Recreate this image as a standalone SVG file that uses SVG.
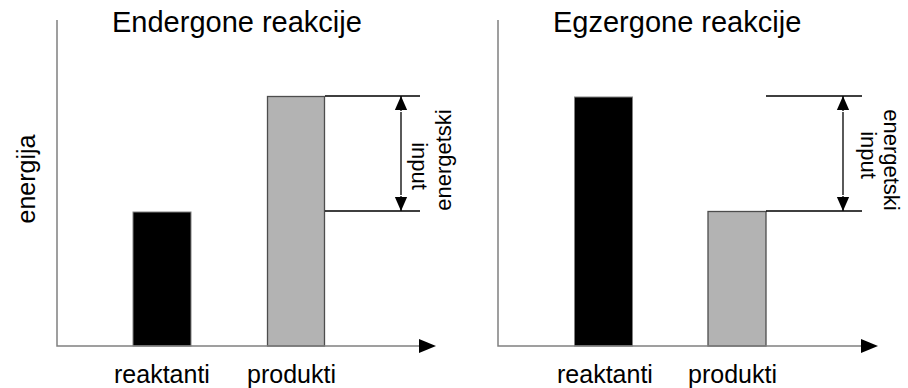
<svg xmlns="http://www.w3.org/2000/svg" width="908" height="388" viewBox="0 0 908 388">
<defs>
<marker id="axarrow" markerUnits="userSpaceOnUse" markerWidth="18" markerHeight="14" refX="0" refY="7" orient="auto" viewBox="0 0 18 14">
<path d="M0,0 L17,7 L0,14 Z" fill="#000"/>
</marker>
<marker id="dimarrow" markerUnits="userSpaceOnUse" markerWidth="14" markerHeight="16" refX="16" refY="7" orient="auto" viewBox="0 0 16 14">
<path d="M0,0 L16,7 L0,14 Z" fill="#000"/>
</marker>
</defs>
<style>
.t{font-family:"Liberation Sans",Arial,sans-serif;fill:#000}
.title{font-size:29px}
.lab{font-size:25px}
.side{font-size:22px}
.axis{stroke:#808080;stroke-width:1.5;fill:none}
.ref{stroke:#000;stroke-width:1.3;fill:none}
.dim{stroke:#000;stroke-width:1.3;fill:none}
.blk{fill:#000;stroke:#808080;stroke-width:1}
.gry{fill:#b3b3b3;stroke:#4d4d4d;stroke-width:1.3}
</style>
<rect width="908" height="388" fill="#fff"/>
<g id="left-panel">
<text class="t title" x="112" y="32">Endergone reakcije</text>
<text class="t lab" transform="translate(35,179) rotate(-90)" text-anchor="middle">energija</text>
<text class="t lab" x="114" y="383">reaktanti</text>
<text class="t lab" x="247" y="383">produkti</text>
</g>
<g id="left-reaktanti"><rect class="blk" x="133" y="212" width="58" height="134"/></g>
<g id="left-produkti"><rect class="gry" x="267.5" y="96.5" width="57" height="249.5"/></g>
<g id="left-label">
<text class="t side" transform="translate(412,166) rotate(90)" text-anchor="middle">input</text>
<text class="t side" transform="translate(451,160) rotate(-90)" text-anchor="middle">energetski</text>
</g>
<g id="right-panel">
<text class="t title" x="553" y="32">Egzergone reakcije</text>
<text class="t lab" x="557" y="383">reaktanti</text>
<text class="t lab" x="688" y="383">produkti</text>
</g>
<g id="right-reaktanti"><rect class="blk" x="574.5" y="97" width="58" height="249"/></g>
<g id="right-produkti"><rect class="gry" x="708" y="211.5" width="58" height="134.5"/></g>
<g id="right-label">
<text class="t side" transform="translate(861,155) rotate(90)" text-anchor="middle">input</text>
<text class="t side" transform="translate(884,160) rotate(90)" text-anchor="middle">energetski</text>
</g>
<g id="connectors">
<path class="axis" d="M57,20 V346 H419" marker-end="url(#axarrow)"/>
<path class="axis" d="M498,20 V346 H861" marker-end="url(#axarrow)"/>
<path class="ref" d="M325,96 H420 M325,211 H420"/>
<path class="ref" d="M766,96 H862 M766,211 H862"/>
<path class="dim" d="M401,112 V195"/>
<path class="dim" d="M401,111 V96" marker-end="url(#dimarrow)"/>
<path class="dim" d="M401,196 V211" marker-end="url(#dimarrow)"/>
<path class="dim" d="M843,112 V195"/>
<path class="dim" d="M843,111 V96" marker-end="url(#dimarrow)"/>
<path class="dim" d="M843,196 V211" marker-end="url(#dimarrow)"/>
</g>
</svg>
